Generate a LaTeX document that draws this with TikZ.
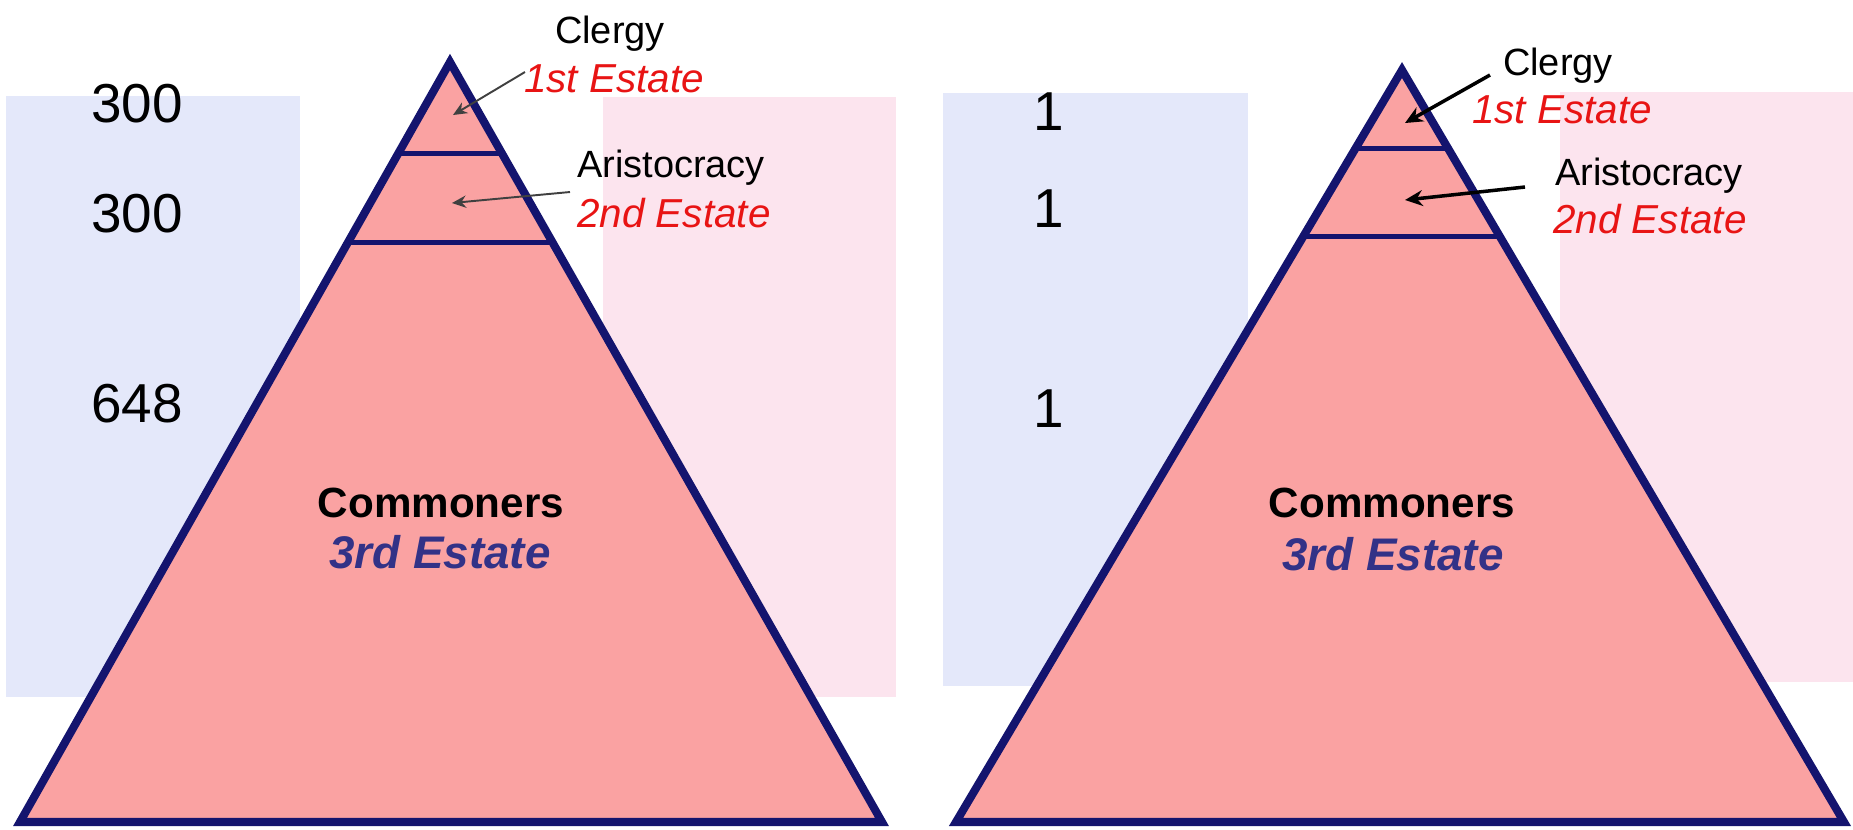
\documentclass[tikz,border=0pt]{standalone}
\usepackage{fontspec}
\setmainfont{Liberation Sans}
\usetikzlibrary{arrows.meta, calc}
\definecolor{panelblue}{RGB}{228,232,250}
\definecolor{panelpink}{RGB}{252,228,238}
\definecolor{tierfill}{RGB}{250,162,162}
\definecolor{tieredge}{RGB}{20,20,110}
\definecolor{rankred}{RGB}{232,20,20}
\definecolor{rankblue}{RGB}{50,50,135}

\begin{document}
\begin{tikzpicture}[
  x=0.01cm, y=-0.01cm,
  bluepanel/.style={fill=panelblue, draw=none},
  pinkpanel/.style={fill=panelpink, draw=none},
  tier/.style={fill=tierfill, draw=tieredge, line width=2.3pt, line join=miter},
  divider/.style={draw=tieredge, line width=1.4pt},
  cnt/.style={font=\fontsize{15.6}{18}\selectfont, anchor=base, inner sep=0pt},
  who/.style={font=\fontsize{10.8}{13}\selectfont, anchor=base, inner sep=0pt},
  rank/.style={font=\fontsize{11.5}{14}\selectfont\itshape, text=rankred,
               anchor=base, inner sep=0pt},
  mass/.style={font=\fontsize{12}{14}\selectfont\bfseries, anchor=base, inner sep=0pt},
  massrank/.style={font=\fontsize{13}{15}\selectfont\bfseries\itshape, text=rankblue,
                   anchor=base, inner sep=0pt},
  thinarr/.style={-{Stealth[length=4pt, width=3.5pt]}, draw=black!75, line width=0.55pt},
  boldarr/.style={-{Stealth[length=5pt, width=4.5pt]}, draw=black, line width=1pt},
]
\useasboundingbox (0,0) rectangle (1853,829);

% background panels
\fill[bluepanel] (6,96) rectangle (300,697);
\fill[pinkpanel] (603,97) rectangle (896,697);
\fill[bluepanel] (943,93) rectangle (1248,686);
\fill[pinkpanel] (1560,92) rectangle (1853,682);

% left pyramid
\coordinate (apexL) at (450,62);
\coordinate (blL) at (20,822);
\coordinate (brL) at (882,822);
\draw[tier] (apexL) -- (blL) -- (brL) -- cycle;
\draw[divider] ($(apexL)!0.12!(blL)$) -- ($(apexL)!0.12!(brL)$);
\draw[divider] ($(apexL)!0.2375!(blL)$) -- ($(apexL)!0.2375!(brL)$);

% right pyramid
\coordinate (apexR) at (1402,70);
\coordinate (blR) at (956,822);
\coordinate (brR) at (1844,822);
\draw[tier] (apexR) -- (blR) -- (brR) -- cycle;
\draw[divider] ($(apexR)!0.104!(blR)$) -- ($(apexR)!0.104!(brR)$);
\draw[divider] ($(apexR)!0.222!(blR)$) -- ($(apexR)!0.222!(brR)$);

% left labels
\node[cnt] (numL1) at (137,122) {300};
\node[cnt] (numL2) at (137,232) {300};
\node[cnt] (numL3) at (137,422) {648};
\node[who] (clergyL) at (610,43) {Clergy};
\node[rank] (firstL) at (614,92) {1st Estate};
\node[who] (aristL) at (671,177) {Aristocracy};
\node[rank] (secondL) at (674,227) {2nd Estate};
\node[mass] (commonL) at (441,517) {Commoners};
\node[massrank] (thirdL) at (440,568) {3rd Estate};

% right labels
\node[cnt] (numR1) at (1049,130) {1};
\node[cnt] (numR2) at (1049,227) {1};
\node[cnt] (numR3) at (1049,427) {1};
\node[who] (clergyR) at (1558,75) {Clergy};
\node[rank] (firstR) at (1562,123) {1st Estate};
\node[who] (aristR) at (1649,185) {Aristocracy};
\node[rank] (secondR) at (1650,233) {2nd Estate};
\node[mass] (commonR) at (1392,517) {Commoners};
\node[massrank] (thirdR) at (1393,570) {3rd Estate};

% pointers into the tiers
\coordinate (tailL1) at (525,72);
\coordinate (tipL1) at (453,115);
\coordinate (tailL2) at (570,192);
\coordinate (tipL2) at (452,203);
\draw[thinarr] (tailL1) -- (tipL1);
\draw[thinarr] (tailL2) -- (tipL2);

\coordinate (tailR1) at (1490,75);
\coordinate (tipR1) at (1405,123);
\coordinate (tailR2) at (1525,187);
\coordinate (tipR2) at (1405,200);
\draw[boldarr] (tailR1) -- (tipR1);
\draw[boldarr] (tailR2) -- (tipR2);
\end{tikzpicture}
\end{document}
